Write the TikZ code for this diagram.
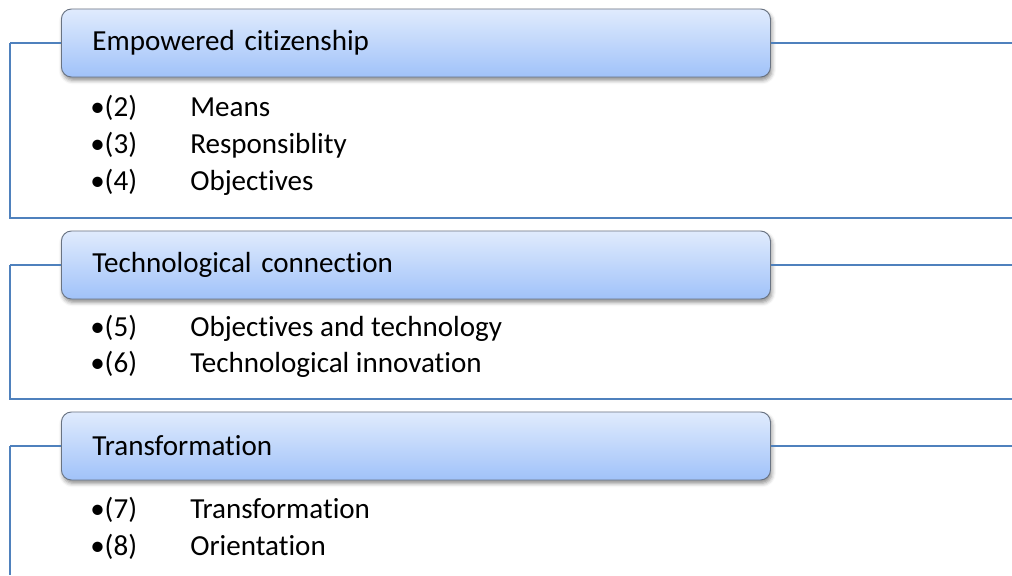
\documentclass[tikz,border=0pt]{standalone}
\usepackage{fontspec}
\setmainfont[Ligatures=NoCommon]{Carlito}
\usetikzlibrary{shadows.blur}
\definecolor{rahmen}{RGB}{79,129,189}
\definecolor{kopfoben}{RGB}{224,235,253}
\definecolor{kopfunten}{RGB}{160,194,249}
\definecolor{kopfrand}{RGB}{105,115,130}

\begin{document}
\begin{tikzpicture}[
    x=0.75pt, y=-0.75pt,
    kopf/.style = {rectangle, rounded corners=7.5pt, draw=kopfrand, line width=0.7pt,
                   top color=kopfoben, bottom color=kopfunten,
                   minimum height=51pt, text width=485.25pt, inner xsep=23.25pt,
                   align=left, anchor=west,
                   blur shadow={shadow xshift=1pt, shadow yshift=-2.5pt,
                                shadow blur radius=3pt, shadow opacity=45}},
    punkt/.style = {anchor=base west, inner sep=0pt},
    linie/.style = {rahmen, line width=1.3pt},
    font=\fontsize{21.8}{25}\selectfont
    ]

  \useasboundingbox (0,0) rectangle (1012,575);

  % corners of the three brackets
  \coordinate (a1) at (10,43);   \coordinate (b1) at (10,218);  \coordinate (c1) at (1012,218);
  \coordinate (a2) at (10,265);  \coordinate (b2) at (10,399);  \coordinate (c2) at (1012,399);
  \coordinate (a3) at (10,446);  \coordinate (b3) at (10,575);
  \coordinate (e1) at (1012,43);
  \coordinate (e2) at (1012,265);
  \coordinate (e3) at (1012,446);

  \draw[linie] (a1) -- (b1) -- (c1);
  \draw[linie] (a2) -- (b2) -- (c2);
  \draw[linie] (a3) -- (b3);

  \node[kopf] (k1) at (61,43)  {Empowered citizenship};
  \node[kopf] (k2) at (61,265) {Technological connection};
  \node[kopf] (k3) at (61,446) {Transformation};

  \draw[linie] (k1.west) -- (a1)  (k1.east) -- (e1);
  \draw[linie] (k2.west) -- (a2)  (k2.east) -- (e2);
  \draw[linie] (k3.west) -- (a3)  (k3.east) -- (e3);

  \node[punkt] (p2) at (90,116) {\makebox[75pt][l]{•(2)}Means};
  \node[punkt] (p3) at (90,153) {\makebox[75pt][l]{•(3)}Responsiblity};
  \node[punkt] (p4) at (90,190) {\makebox[75pt][l]{•(4)}Objectives};

  \node[punkt] (p5) at (90,336) {\makebox[75pt][l]{•(5)}Objectives and technology};
  \node[punkt] (p6) at (90,372) {\makebox[75pt][l]{•(6)}Technological innovation};

  \node[punkt] (p7) at (90,518) {\makebox[75pt][l]{•(7)}Transformation};
  \node[punkt] (p8) at (90,555) {\makebox[75pt][l]{•(8)}Orientation};

\end{tikzpicture}
\end{document}
